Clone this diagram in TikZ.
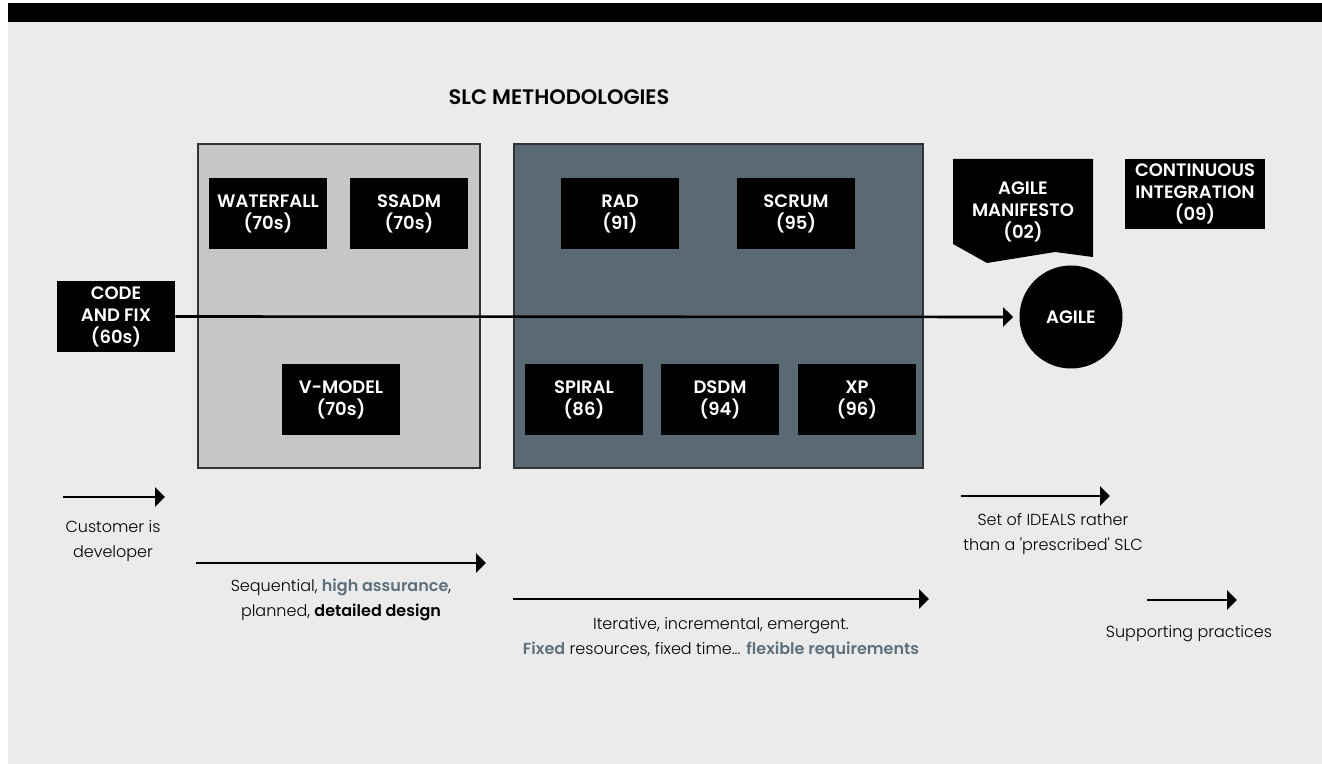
\documentclass[tikz,border=0pt]{standalone}
\usepackage{fontspec}
\setmainfont{Poppins}[UprightFont={* Light},BoldFont={* SemiBold}]
\usetikzlibrary{positioning,arrows.meta}
\definecolor{PageGrey}{HTML}{EBEBEB}
\definecolor{PlanGrey}{HTML}{C6C6C4}
\definecolor{SlateBlue}{HTML}{5A6A74}
\definecolor{HiText}{HTML}{5E707C}
\newcommand{\hl}[1]{\textbf{\color{HiText}#1}}

\begin{document}
\begin{tikzpicture}[
  x=0.5pt, y=-0.5pt,
  font=\fontsize{8}{12.5}\selectfont,
  method/.style={fill=black, text=white, align=center, inner sep=0pt,
    minimum width=59pt, minimum height=35.5pt,
    font=\fontsize{9}{11}\selectfont\bfseries},
  phase/.style={draw=black!80, line width=0.7pt, inner sep=0pt,
    minimum height=162pt},
  note/.style={align=center, inner sep=0pt},
  arr/.style={-{Triangle[length=5pt, width=9.5pt]}, line width=1.3pt},
]
\useasboundingbox (0,0) rectangle (1322,764);
\fill[PageGrey] (8,3) rectangle (1322,764);
\fill[black] (8,3) rectangle (1322,22);

\node[font=\fontsize{10.5}{12}\selectfont\bfseries] (title) at (559,97) {SLC METHODOLOGIES};

% the two families
\node[phase, fill=PlanGrey, minimum width=141pt] (plan) at (339,306) {};
\node[phase, fill=SlateBlue, minimum width=204.5pt] (iter) at (718.5,306) {};

\node[method] (codefix) at (116,316.5) {CODE\\AND FIX\\(60s)};

\node[method] (waterfall) at (268,213.5) {WATERFALL\\(70s)};
\node[method] (ssadm)     at (409,213.5) {SSADM\\(70s)};
\node[method] (vmodel)    at (341,399.5) {V-MODEL\\(70s)};

\node[method] (rad)    at (620,213.5) {RAD\\(91)};
\node[method] (scrum)  at (796,213.5) {SCRUM\\(95)};
\node[method] (spiral) at (584,399.5) {SPIRAL\\(86)};
\node[method] (dsdm)   at (720,399.5) {DSDM\\(94)};
\node[method] (xp)     at (857,399.5) {XP\\(96)};

% manifesto flag
\fill[black] (953,159) -- (1093,159) -- (1093,257) -- (1055,252) -- (987,263) -- (953,244) -- cycle;
\node[method, fill=none, minimum width=70pt] (manifesto) at (1023,212) {AGILE\\MANIFESTO\\(02)};
\node[method, minimum width=70pt, minimum height=35pt] (ci) at (1195,194)
  {CONTINUOUS\\INTEGRATION\\(09)};
\node[method, circle, minimum size=51.5pt] (agile) at (1071,317) {AGILE};

\draw[arr, shorten >=3pt] (codefix.east) -- (agile.west);

% notes along the bottom
\coordinate (a1s) at (63,497);   \coordinate (a1e) at (165,497);
\coordinate (a2s) at (196,563);  \coordinate (a2e) at (486,563);
\coordinate (a3s) at (513,599);  \coordinate (a3e) at (929,599);
\coordinate (a4s) at (961,496);  \coordinate (a4e) at (1110,496);
\coordinate (a5s) at (1147,600); \coordinate (a5e) at (1237,600);
\draw[arr] (a1s) -- (a1e);
\draw[arr] (a2s) -- (a2e);
\draw[arr] (a3s) -- (a3e);
\draw[arr] (a4s) -- (a4e);
\draw[arr] (a5s) -- (a5e);

\node[note] (cust) at (113,541) {Customer is\\developer};
\node[note] (seq) at (341,600)
  {Sequential, \hl{high assurance},\\planned, \textbf{detailed design}};
\node[note] (itr) at (721,638)
  {Iterative, incremental, emergent.\\\hl{Fixed} resources, fixed time... \hl{flexible requirements}};
\node[note] (ideals) at (1053,534.5)
  {Set of IDEALS rather\\than a \textquotesingle prescribed\textquotesingle{} SLC};
\node[note] (support) at (1189,634) {Supporting practices};
\end{tikzpicture}
\end{document}
